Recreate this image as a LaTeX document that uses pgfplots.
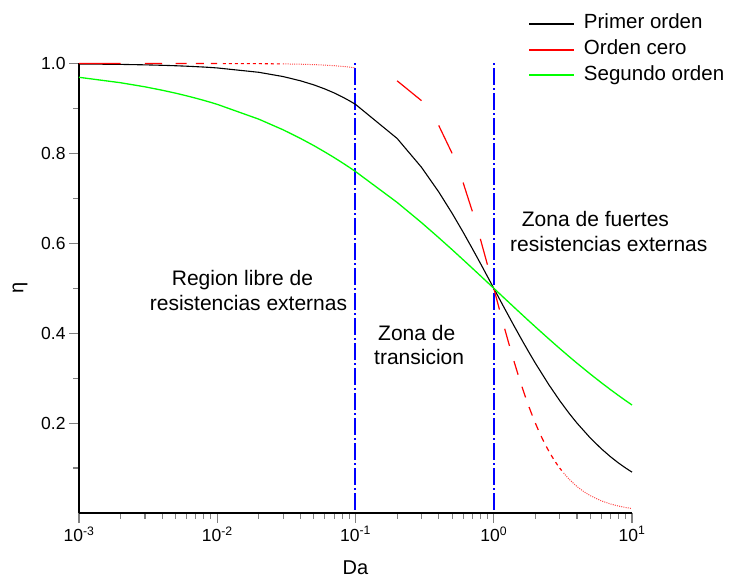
\documentclass[border=0pt]{standalone}
\usepackage{pgfplots}
\pgfplotsset{compat=1.18}
\usepackage{fontspec}
\setmainfont{Liberation Sans}
\definecolor{zblue}{RGB}{0,0,255}
\definecolor{zred}{RGB}{255,0,0}
\definecolor{zpink}{RGB}{255,70,70}
\definecolor{zgreen}{RGB}{0,255,0}
\begin{document}
\begin{tikzpicture}
\begin{axis}[
  scale only axis, width=553pt, height=449.5pt,
  xmode=log, xmin=1e-3, xmax=10, ymin=0, ymax=1,
  clip=false,
  axis x line*=bottom, axis y line*=left,
  x axis line style={-}, y axis line style={-},
  axis line style={line width=1.3pt},
  tick align=outside,
  major tick length=10pt, minor tick length=6pt,
  tick style={line width=1.1pt},
  xtick={0.001,0.01,0.1,1,10},
  xticklabels={10\textsuperscript{-3},10\textsuperscript{-2},10\textsuperscript{-1},10\textsuperscript{0},10\textsuperscript{1}},
  minor xtick={0.002,0.003,0.004,0.005,0.006,0.007,0.008,0.009,0.02,0.03,0.04,0.05,0.06,0.07,0.08,0.09,0.2,0.3,0.4,0.5,0.6,0.7,0.8,0.9,2,3,4,5,6,7,8,9},
  ytick={0.2,0.4,0.6,0.8,1.0}, yticklabels={0.2,0.4,0.6,0.8,1.0},
  minor ytick={0.1,0.3,0.5,0.7,0.9},
  ticklabel style={font=\fontsize{17.5}{20}\selectfont},
  xlabel={Da}, ylabel={η},
  label style={font=\fontsize{20}{24}\selectfont},
  xlabel style={at={(rel axis cs:0.5,0)}, anchor=base, yshift=-62pt},
  ylabel style={at={(rel axis cs:0,0.5)}, anchor=center, yshift=59pt},
  legend style={draw=none, fill=none, inner sep=0pt, outer sep=0pt,
    at={(rel axis cs:1,1)}, anchor=north west, xshift=-104pt, yshift=49.5pt,
    font=\fontsize{20.5}{24}\selectfont, row sep=5.7pt,
    nodes={inner sep=0pt, text height=15pt, text depth=5pt},
    /tikz/every even column/.append style={column sep=0pt}},
  legend cell align=left,
  legend image code/.code={\draw[#1] (0pt,0pt) -- (45pt,0pt); \path (54pt,0pt);},
]
% zone limits
\addplot[color=zblue, line width=2pt, dash pattern=on 2pt off 3pt on 17pt off 3pt, forget plot] coordinates {(0.1,1) (0.1,0)};
\addplot[color=zblue, line width=2pt, dash pattern=on 2pt off 3pt on 17pt off 3pt, forget plot] coordinates {(1,1) (1,0)};
% Primer orden
\addplot[color=black, line width=1.1pt, forget plot] coordinates {
(0.001,0.9990) (0.002,0.9980) (0.003,0.9970) (0.004,0.9960) (0.005,0.9950)
(0.006,0.9940) (0.007,0.9930) (0.008,0.9921) (0.009,0.9911) (0.01,0.9901)
(0.02,0.9804) (0.03,0.9709) (0.04,0.9615) (0.05,0.9524) (0.06,0.9434)
(0.07,0.9346) (0.08,0.9259) (0.09,0.9174) (0.1,0.9091) (0.2,0.8333)
(0.3,0.7692) (0.4,0.7143) (0.5,0.6667) (0.6,0.6250) (0.7,0.5882)
(0.8,0.5556) (0.9,0.5263) (1.0,0.5) (1.2,0.4545) (1.4,0.4167)
(1.6,0.3846) (1.8,0.3571) (2,0.3333) (2.5,0.2857) (3,0.25)
(3.5,0.2222) (4,0.2) (5,0.1667) (6,0.1429) (7,0.125)
(8,0.1111) (9,0.1) (10,0.0909)};
% Orden cero
\addplot[color=zred, line width=1.2pt, unbounded coords=jump, forget plot] coordinates {
(0.001,1.0) (0.002,1.0) (0.0025,nan)
(0.003,1.0) (0.004,1.0) (0.0045,nan)
(0.005,1.0) (0.006,1.0) (0.0065,nan)
(0.007,0.99995) (0.008,0.99994) (0.0085,nan)
(0.009,0.99992) (0.010,0.9999) (0.15,nan)
(0.2,0.9615) (0.3,0.9174) (0.35,nan)
(0.4,0.8621) (0.5,0.8) (0.55,nan)
(0.6,0.7353) (0.7,0.6711) (0.75,nan)
(0.8,0.6098) (0.9,0.5525) (0.95,nan)
(1.0,0.5) (1.1,0.4525) (1.15,nan)
(1.2,0.4098) (1.3,0.3717) (1.35,nan)
(1.4,0.3378) (1.5,0.3077) (1.55,nan)
(1.6,0.2809) (1.7,0.2571) (1.75,nan)
(1.8,0.2358) (1.9,0.2169) (1.95,nan)
(2.0,0.2) (2.1,0.1848) (2.15,nan)
(2.2,0.1712) (2.3,0.1590) (2.35,nan)
(2.4,0.1479) (2.5,0.1379) (2.55,nan)
(2.6,0.1289) (2.7,0.1206) (2.75,nan)
(2.8,0.1131) (2.9,0.1063) (2.95,nan)
(3.0,0.1) (3.1,0.0943)};
\addplot[color=zred, line width=1.1pt, dash pattern=on 3pt off 3pt, forget plot] coordinates {
(0.011,0.99988) (0.02,0.9996) (0.03,0.9991)};
\addplot[color=zpink, line width=1pt, dash pattern=on 1pt off 1.2pt, forget plot] coordinates {
(0.03,0.9991) (0.04,0.9984) (0.05,0.9975) (0.06,0.9964) (0.07,0.9951)
(0.08,0.9936) (0.09,0.9920) (0.1,0.9901)};
\addplot[color=zpink, line width=1pt, dash pattern=on 1pt off 1.2pt, forget plot] coordinates {
(3.2,0.0890) (3.5,0.0755) (4,0.0588) (4.5,0.0471) (5,0.0385)
(6,0.0270) (7,0.02) (8,0.0154) (9,0.0122) (10,0.0099)};
% Segundo orden
\addplot[color=zgreen, line width=1.3pt, forget plot] coordinates {
(0.001,0.9693) (0.002,0.9572) (0.003,0.9481) (0.004,0.9405) (0.005,0.9340)
(0.006,0.9281) (0.007,0.9228) (0.008,0.9179) (0.009,0.9134) (0.01,0.9091)
(0.02,0.8761) (0.03,0.8524) (0.04,0.8333) (0.05,0.8173) (0.06,0.8032)
(0.07,0.7908) (0.08,0.7795) (0.09,0.7692) (0.1,0.7597) (0.2,0.6910)
(0.3,0.6461) (0.4,0.6125) (0.5,0.5858) (0.6,0.5635) (0.7,0.5445)
(0.8,0.5279) (0.9,0.5132) (1.0,0.5) (1.2,0.4772) (1.4,0.4580)
(1.6,0.4415) (1.8,0.4270) (2,0.4142) (2.5,0.3874) (3,0.3660)
(3.5,0.3483) (4,0.3333) (5,0.3090) (6,0.2899) (7,0.2743)
(8,0.2612) (9,0.25) (10,0.2403)};
% legend
\addlegendimage{color=black, line width=2pt}
\addlegendentry{Primer orden}
\addlegendimage{color=zred, line width=2pt}
\addlegendentry{Orden cero}
\addlegendimage{color=zgreen, line width=2pt}
\addlegendentry{Segundo orden}
% annotations
\begin{scope}[every node/.style={font=\fontsize{21}{25}\selectfont, inner sep=0pt, anchor=base west}]
\node at (axis cs:0.004683,0.5072) {Region libre de};
\node at (axis cs:0.003246,0.4516) {resistencias externas};
\node at (axis cs:0.14545,0.3833) {Zona de};
\node at (axis cs:0.1361,0.3293) {transicion};
\node at (axis cs:1.593,0.6369) {Zona de fuertes};
\node at (axis cs:1.3105,0.5813) {resistencias externas};
\end{scope}
\coordinate (BL) at (rel axis cs:0,0);
\coordinate (TR) at (rel axis cs:1,1);
\end{axis}
\pgfresetboundingbox
\path[use as bounding box] ([xshift=-79pt,yshift=-68pt]BL) rectangle ([xshift=98pt,yshift=63.5pt]TR);
\end{tikzpicture}
\end{document}
